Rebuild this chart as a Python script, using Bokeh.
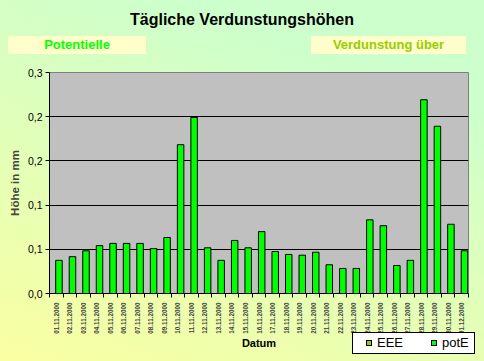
from math import pi
from bokeh.plotting import figure
from bokeh.layouts import column
from bokeh.models import ColumnDataSource, FixedTicker, Range1d, Div
from bokeh.transform import dodge
from bokeh.embed import file_html
from bokeh.resources import INLINE

dates = ["01.11.2000", "02.11.2000", "03.11.2000", "04.11.2000", "05.11.2000",
         "06.11.2000", "07.11.2000", "08.11.2000", "09.11.2000", "10.11.2000",
         "11.11.2000", "12.11.2000", "13.11.2000", "14.11.2000", "15.11.2000",
         "16.11.2000", "17.11.2000", "18.11.2000", "19.11.2000", "20.11.2000",
         "21.11.2000", "22.11.2000", "23.11.2000", "24.11.2000", "25.11.2000",
         "26.11.2000", "27.11.2000", "28.11.2000", "29.11.2000", "30.11.2000",
         "01.12.2000"]
pot_e = [0.045, 0.050, 0.058, 0.065, 0.068, 0.068, 0.068, 0.061, 0.076, 0.202,
         0.239, 0.062, 0.045, 0.072, 0.062, 0.084, 0.057, 0.053, 0.052, 0.056,
         0.039, 0.034, 0.034, 0.100, 0.092, 0.038, 0.045, 0.263, 0.227, 0.094,
         0.058]
eee = [0.0, 0.0, 0.0, 0.0, 0.0, 0.0, 0.0, 0.0, 0.0, 0.0,
       0.0, 0.0, 0.0, 0.0, 0.0, 0.0, 0.0, 0.0, 0.0, 0.0,
       0.0, 0.0, 0.0, 0.0, 0.0, 0.0, 0.0, 0.0, 0.0, 0.0,
       0.0]
y_ticks = [0.0, 0.06, 0.12, 0.18, 0.24, 0.30]
y_tick_labels = ["0,0", "0,1", "0,1", "0,2", "0,2", "0,3"]
series_names = ["EEE", "potE"]
series_colors = ["#99CC00", "#00FF00"]

title_text = "Tägliche Verdunstungshöhen"
box_left_text = "Potentielle"
box_right_text = "Verdunstung über"
y_label = "Höhe in mm"
x_label = "Datum"

FONT = "Liberation Sans"
W = 484
FONT_CSS = "font-family:Liberation Sans,Arial,sans-serif;"

# ---------- header (title and the two boxes) ----------
header_html = (
    f'<div style="position:relative;width:{W}px;height:64px;margin:0;padding:0;">'
    f'<div style="position:absolute;left:0;top:10px;width:{W}px;text-align:center;'
    f'{FONT_CSS}font-weight:bold;font-size:16px;line-height:20px;color:#000;white-space:nowrap;">'
    f'{title_text}</div>'
    f'<div style="position:absolute;left:8px;top:36px;width:138px;height:18px;background:#FFFFCC;'
    f'text-align:center;{FONT_CSS}font-weight:bold;font-size:13px;line-height:18px;'
    f'color:{series_colors[1]};white-space:nowrap;">{box_left_text}</div>'
    f'<div style="position:absolute;left:311px;top:36px;width:155px;height:18px;background:#FFFFCC;'
    f'text-align:center;{FONT_CSS}font-weight:bold;font-size:13px;line-height:18px;'
    f'color:{series_colors[0]};white-space:nowrap;">{box_right_text}</div>'
    f'</div>')
header = Div(text=header_html, width=W, height=64, margin=0)

# ---------- main chart ----------
pos = list(range(1, len(dates) + 1))
src = ColumnDataSource(dict(x=pos, pot=pot_e, eee=eee))

p = figure(width=W, height=275,
           x_range=Range1d(0.5, len(dates) + 0.5), y_range=Range1d(0, 0.3),
           output_backend="svg", toolbar_location=None,
           min_border_left=49, min_border_right=16,
           min_border_top=8, min_border_bottom=46)
p.border_fill_color = None
p.background_fill_color = "#C0C0C0"
p.outline_line_color = "#808080"

p.vbar(x=dodge("x", -0.25, range=p.x_range), top="eee", width=0.48, source=src,
       fill_color=series_colors[0], line_color="black", line_width=1)
p.vbar(x=dodge("x", 0.2, range=p.x_range), top="pot", width=0.48, source=src,
       fill_color=series_colors[1], line_color="black", line_width=1)

p.xgrid.visible = False
p.ygrid.ticker = FixedTicker(ticks=y_ticks)
p.ygrid.grid_line_color = "black"
p.ygrid.grid_line_width = 1

ya = p.yaxis[0]
ya.ticker = FixedTicker(ticks=y_ticks)
ya.major_label_overrides = {t: l for t, l in zip(y_ticks, y_tick_labels)}
ya.major_label_text_font = FONT
ya.major_label_text_font_size = "10.5px"
ya.major_label_text_color = "black"
ya.major_tick_in = 0
ya.major_tick_out = 4
ya.minor_tick_line_color = None
ya.axis_line_color = "black"
ya.major_label_standoff = 3
ya.axis_label = y_label
ya.axis_label_text_font = FONT
ya.axis_label_text_font_style = "bold"
ya.axis_label_text_font_size = "11.5px"
ya.axis_label_standoff = 4

xa = p.xaxis[0]
xa.ticker = FixedTicker(ticks=pos, minor_ticks=[i + 0.5 for i in range(0, len(dates) + 1)])
xa.major_label_overrides = {i: d for i, d in zip(pos, dates)}
xa.major_label_orientation = pi / 2
xa.major_label_text_font = FONT
xa.major_label_text_font_style = "bold"
xa.major_label_text_font_size = "6.3px"
xa.major_tick_in = 0
xa.major_tick_out = 0
xa.minor_tick_in = 0
xa.minor_tick_out = 4
xa.minor_tick_line_color = "black"
xa.axis_line_color = "black"
xa.major_label_standoff = 5

# ---------- footer (axis title and legend) ----------
def legend_entry(name, color, left):
    return (f'<div style="position:absolute;left:{left}px;top:7px;width:6px;height:6px;'
            f'background:{color};border:1px solid #000;"></div>'
            f'<div style="position:absolute;left:{left + 11}px;top:2px;{FONT_CSS}font-size:13px;'
            f'line-height:16px;color:#000;white-space:nowrap;">{name}</div>')

footer_html = (
    f'<div style="position:relative;width:{W}px;height:29px;margin:0;padding:0;">'
    f'<div style="position:absolute;left:209px;top:4px;width:100px;text-align:center;'
    f'{FONT_CSS}font-weight:bold;font-size:11px;line-height:14px;color:#000;">{x_label}</div>'
    f'<div style="position:absolute;left:352px;top:0;width:123px;height:22px;'
    f'background:#FFF;border:1px solid #000;">'
    + legend_entry(series_names[0], series_colors[0], 13)
    + legend_entry(series_names[1], series_colors[1], 78)
    + '</div></div>')
footer = Div(text=footer_html, width=W, height=29, margin=(-7, 0, 0, 0))

layout = column(header, p, footer, spacing=0)
layout.styles = {"background": "linear-gradient(200deg, #CCFFCC 0%, #CCFFCC 20%, #FAFFA2 100%)"}

open("out.html", "w").write(file_html(layout, INLINE))
